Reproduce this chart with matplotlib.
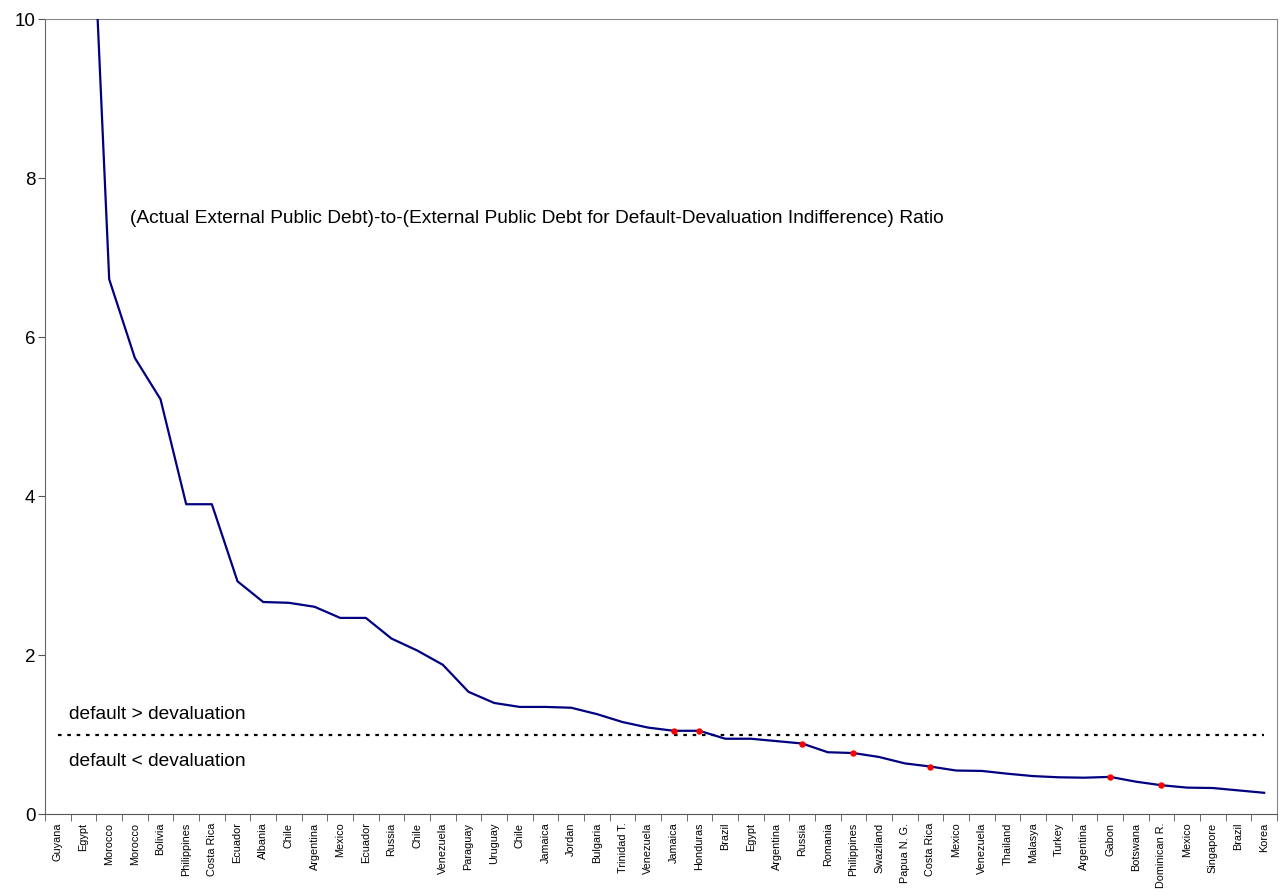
import matplotlib.pyplot as plt
from matplotlib.ticker import FixedLocator

plt.rcParams['font.family'] = ['Liberation Sans', 'DejaVu Sans']

countries = ["Guyana", "Egypt", "Morocco", "Morocco", "Bolivia", "Philippines", "Costa Rica",
             "Ecuador", "Albania", "Chile", "Argentina", "Mexico", "Ecuador", "Russia", "Chile",
             "Venezuela", "Paraguay", "Uruguay", "Chile", "Jamaica", "Jordan", "Bulgaria",
             "Trinidad T.", "Venezuela", "Jamaica", "Honduras", "Brazil", "Egypt", "Argentina",
             "Russia", "Romania", "Philippines", "Swaziland", "Papua N. G.", "Costa Rica",
             "Mexico", "Venezuela", "Thailand", "Malasya", "Turkey", "Argentina", "Gabon",
             "Botswana", "Dominican R.", "Mexico", "Singapore", "Brazil", "Korea"]

# ratio values (first two lie above the 10 ceiling)
ratio = [16.0, 14.0, 6.73, 5.74, 5.22, 3.90, 3.90,
         2.93, 2.67, 2.66, 2.61, 2.47, 2.47, 2.21, 2.06,
         1.88, 1.54, 1.40, 1.35, 1.35, 1.34, 1.26,
         1.16, 1.09, 1.05, 1.05, 0.95, 0.95, 0.92,
         0.89, 0.78, 0.77, 0.72, 0.64, 0.60,
         0.55, 0.545, 0.51, 0.48, 0.465, 0.46, 0.47,
         0.41, 0.365, 0.335, 0.33, 0.30, 0.27]

# red dots
marked = [0] * 24 + [1, 1, 0, 0, 0, 1, 0, 1, 0, 0, 1, 0, 0, 0, 0, 0, 0, 1, 0, 1, 0, 0, 0, 0]

threshold = [1.0] * len(countries)

fig = plt.figure(figsize=(12.83, 8.94), dpi=100)
ax = fig.add_axes([0.0351, 0.0892, 0.9602, 0.8892])

x = list(range(len(countries)))
ax.plot(x, ratio, color='#000080', lw=1.6, zorder=3)
ax.plot(x, threshold, color='black', lw=1.6, linestyle=(0, (1.6, 2.6)), zorder=2)
mx = [i for i in x if marked[i]]
my = [ratio[i] for i in x if marked[i]]
ax.plot(mx, my, 'o', color='red', markersize=4.6, markeredgewidth=0, zorder=4)

ax.set_xlim(-0.5, len(countries) - 0.5)
ax.set_ylim(0, 10)
ax.set_yticks([0, 2, 4, 6, 8, 10])
ax.tick_params(axis='y', labelsize=13.5, length=5, color='#555555', pad=2)

ax.set_xticks(x)
ax.set_xticklabels(countries, rotation=90, fontsize=7.8)
ax.tick_params(axis='x', which='major', length=0, pad=6)
ax.xaxis.set_minor_locator(FixedLocator([i - 0.5 for i in range(len(countries) + 1)]))
ax.tick_params(axis='x', which='minor', length=5, color='#555555')

for s in ax.spines.values():
    s.set_color('#888888')
ax.spines['left'].set_color('#666666')
ax.spines['bottom'].set_color('#555555')

ax.text(2.81, 7.50, "(Actual External Public Debt)-to-(External Public Debt for Default-Devaluation Indifference) Ratio",
        fontsize=13.8, va='center', ha='left')
ax.text(0.42, 1.26, "default > devaluation", fontsize=13.8, va='center', ha='left')
ax.text(0.42, 0.66, "default < devaluation", fontsize=13.8, va='center', ha='left')

fig.savefig('out.png', dpi=100)
